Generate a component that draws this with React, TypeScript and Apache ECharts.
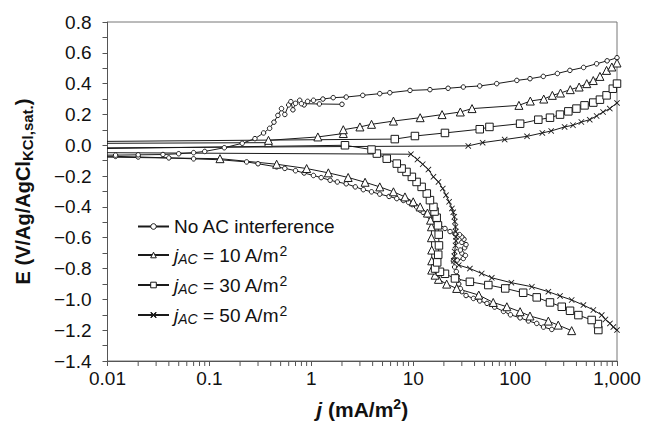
import React, { useEffect, useRef } from "react";
import * as echarts from "echarts";

// x: current density j (mA/m2), y: potential E (V vs Ag/AgCl KCl sat.)
const X_MIN = 0.01;
const X_MAX = 1000;
const Y_MIN = -1.4;
const Y_MAX = 0.8;
const Y_STEP = 0.2;
const X_TICK_LABELS: Record<string, string> = {
  "0.01": "0.01",
  "0.1": "0.1",
  "1": "1",
  "10": "10",
  "100": "100",
  "1000": "1,000",
};

const SERIES_NAMES = ["No AC interference", "jAC10", "jAC30", "jAC50"];
const LEGEND_LABELS: Record<string, string> = {
  "No AC interference": "{t|No AC interference}",
  jAC10: "{i|j}{sub|AC}{t| = 10 A/m}{sup|2}",
  jAC30: "{i|j}{sub|AC}{t| = 30 A/m}{sup|2}",
  jAC50: "{i|j}{sub|AC}{t| = 50 A/m}{sup|2}",
};

const NO_AC_MAIN: [number, number][] = [
  [229, -1.195], [190, -1.18], [163, -1.156], [135, -1.14], [112, -1.12], [90, -1.1],
  [77, -1.078], [63, -1.05], [53, -1.026], [45, -1.01], [39, -0.994], [33, -0.975],
  [30, -0.95], [29, -0.93], [28, -0.9], [27.5, -0.875], [27, -0.85], [26.5, -0.82],
  [25.5, -0.79], [24.8, -0.75], [27, -0.745], [31, -0.735], [32.5, -0.715], [30, -0.7],
  [29, -0.68], [32, -0.665], [33, -0.645], [30, -0.63], [31.5, -0.61], [30, -0.595],
  [28.5, -0.58], [25.7, -0.575], [23, -0.56], [20.5, -0.54], [18, -0.51], [15.8, -0.486],
  [14.6, -0.465], [13.5, -0.45], [12.5, -0.435], [11.7, -0.421], [10.8, -0.4], [9.8, -0.385],
  [9, -0.37], [8, -0.358], [6.9, -0.346], [5.8, -0.332], [4.7, -0.317], [3.9, -0.302],
  [3.24, -0.288], [2.7, -0.27], [2.2, -0.25], [1.8, -0.238], [1.53, -0.227], [1.25, -0.21],
  [1.05, -0.196], [0.85, -0.18], [0.7, -0.165], [0.55, -0.15], [0.457, -0.14],
  [0.3, -0.12], [0.232, -0.108], [0.127, -0.094], [0.07, -0.088], [0.04, -0.082], [0.02, -0.076],
  [0.012, -0.072], [0.001, -0.07],
  [0.001, -0.062], [0.012, -0.064], [0.02, -0.062], [0.035, -0.06], [0.05, -0.055], [0.07, -0.048],
  [0.09, -0.04], [0.14, -0.016], [0.21, 0.013], [0.28, 0.043], [0.34, 0.08], [0.39, 0.11],
  [0.43, 0.15], [0.47, 0.194], [0.51, 0.238], [0.55, 0.2], [0.6, 0.262], [0.63, 0.283],
  [0.66, 0.23], [0.7, 0.272], [0.77, 0.292], [0.85, 0.262], [0.92, 0.285], [1.05, 0.292],
  [1.3, 0.3], [1.64, 0.309], [2.2, 0.313], [3.2, 0.324], [4.7, 0.335], [5.9, 0.341],
  [9.3, 0.356], [14.6, 0.361], [22, 0.37], [31, 0.378], [45, 0.385], [66, 0.4],
  [104, 0.421], [140, 0.432], [189, 0.447], [260, 0.466], [345, 0.486], [470, 0.505],
  [631, 0.529], [800, 0.548], [1000, 0.568],
];
const NO_AC_TAIL: [number, number][] = [[0.8, 0.27], [1.2, 0.268], [2.0, 0.266]];

const AC10: [number, number][] = [
  [359, -1.203], [265, -1.167], [212, -1.141], [140, -1.108], [112, -1.08], [83, -1.048],
  [61, -1.02], [44, -0.972], [26.7, -0.929], [21.3, -0.901], [17.7, -0.87], [16.4, -0.843],
  [15.2, -0.81], [15.2, -0.75], [15.2, -0.68], [15.1, -0.6], [15.1, -0.529], [14.8, -0.486],
  [13.8, -0.44], [11.7, -0.4], [10, -0.367], [8.3, -0.335], [6.4, -0.302], [4.7, -0.27],
  [3.37, -0.24], [2.3, -0.209], [1.47, -0.179], [0.9, -0.151], [0.457, -0.123], [0.127, -0.087],
  [0.001, -0.068],
  [0.001, 0.01], [0.38, 0.017], [0.38, 0.032], [1.16, 0.054], [2.06, 0.076], [2.06, 0.101],
  [3.0, 0.119], [3.9, 0.136], [6.4, 0.157], [11.7, 0.179], [19.2, 0.199], [29, 0.216],
  [37.8, 0.238], [109, 0.259], [141, 0.287], [191, 0.3], [232, 0.324], [279, 0.339],
  [348, 0.361], [425, 0.378], [505, 0.4], [585, 0.42], [680, 0.447], [790, 0.486],
  [890, 0.508], [1000, 0.534],
];

const AC30: [number, number][] = [
  [656, -1.199], [650, -1.16], [564, -1.134], [418, -1.102], [346, -1.074], [287, -1.048],
  [220, -1.02], [163, -0.987], [120, -0.957], [80, -0.929], [54.6, -0.907], [36, -0.886],
  [25.7, -0.864], [20.5, -0.834], [18.3, -0.821], [16.4, -0.8], [17.2, -0.76], [17.6, -0.71],
  [17.9, -0.65], [17.8, -0.58], [17.5, -0.52], [17.0, -0.47], [16.2, -0.43], [15.8, -0.4],
  [14.6, -0.356], [13.6, -0.313], [12.1, -0.27], [10.8, -0.238], [9.7, -0.205], [8.6, -0.173],
  [7.7, -0.151], [6.9, -0.119], [5.5, -0.087], [4.4, -0.054], [3.9, -0.028], [2.14, 0.0],
  [0.001, -0.03],
  [0.001, 0.02], [6.6, 0.04], [10.4, 0.06], [20.5, 0.08], [45, 0.104], [56, 0.119],
  [112, 0.14], [169, 0.166], [220, 0.179], [276, 0.199], [333, 0.22], [400, 0.238],
  [480, 0.259], [585, 0.277], [680, 0.296], [790, 0.324], [910, 0.367], [1000, 0.4],
];

const AC50: [number, number][] = [
  [1000, -1.199], [920, -1.18], [853, -1.156], [770, -1.13], [708, -1.102], [586, -1.069],
  [468, -1.037], [359, -1.004], [276, -0.978], [212, -0.95], [146, -0.918], [92, -0.892],
  [59, -0.86], [47, -0.832], [36, -0.8], [28, -0.778], [25, -0.75], [25.3, -0.72],
  [25.5, -0.69], [26, -0.65], [26.3, -0.62], [26.3, -0.594], [26.2, -0.56], [26, -0.53],
  [25.6, -0.495], [25.3, -0.464], [24.7, -0.435], [24, -0.41], [22.5, -0.367], [21, -0.324],
  [19.5, -0.281], [17.7, -0.238], [15.8, -0.205], [14.1, -0.158], [12.4, -0.123], [11, -0.093],
  [9.5, -0.058], [0.001, -0.045],
  [0.001, -0.02], [34.7, -0.004], [48, 0.017], [79, 0.037], [131, 0.058], [185, 0.08],
  [226, 0.093], [306, 0.119], [370, 0.13], [447, 0.151], [540, 0.166], [631, 0.19],
  [730, 0.216], [850, 0.238], [1000, 0.275],
];

// minor tick positions of the log axis (2..9 within each decade)
const MINOR_TICKS: number[] = [];
for (let e = -2; e < 3; e++) {
  for (let m = 2; m <= 9; m++) MINOR_TICKS.push(Number((m * Math.pow(10, e)).toPrecision(3)));
}

const FONT = "'Liberation Sans', Arial, Helvetica, sans-serif";
const INK = "#1a1a1a";
const AXIS = "#555";
const CROSS = "path://M0,1L1,0L5,4L9,0L10,1L6,5L10,9L9,10L5,6L1,10L0,9L4,5Z";

function lineSeries(name: string, data: [number, number][], symbol: string, size: number, hollow: boolean) {
  return {
    name,
    type: "line",
    data,
    symbol,
    symbolSize: size,
    showAllSymbol: true,
    clip: true,
    lineStyle: { color: INK, width: 1 },
    itemStyle: hollow
      ? { color: "#fff", borderColor: INK, borderWidth: 1 }
      : { color: INK, borderColor: INK, borderWidth: 0 },
    emphasis: { disabled: true },
    z: 3,
  };
}

export default function App() {
  const ref = useRef<HTMLDivElement>(null);
  useEffect(() => {
    if (!ref.current) return;
    const chart = echarts.init(ref.current, undefined, { renderer: "svg" });
    const option: any = {
      animation: false,
      backgroundColor: "#fff",
      textStyle: { fontFamily: FONT },
      grid: {
        left: 107.5,
        right: 29,
        top: 22,
        bottom: 64,
        show: true,
        borderColor: "#777",
        borderWidth: 1,
        backgroundColor: "transparent",
      },
      legend: {
        data: SERIES_NAMES,
        orient: "vertical",
        left: 137,
        top: 217,
        padding: 0,
        itemWidth: 31,
        itemHeight: 7,
        itemGap: 8,
        selectedMode: false,
        itemStyle: { borderWidth: 1 },
        formatter: (name: string) => LEGEND_LABELS[name] || name,
        textStyle: {
          fontFamily: FONT,
          fontSize: 19,
          color: "#111",
          rich: {
            t: { fontFamily: FONT, fontSize: 19, lineHeight: 22, color: "#111" },
            i: { fontFamily: FONT, fontSize: 19, lineHeight: 22, fontStyle: "italic", color: "#111" },
            sub: { fontFamily: FONT, fontSize: 14, lineHeight: 12, fontStyle: "italic", verticalAlign: "bottom", color: "#111" },
            sup: { fontFamily: FONT, fontSize: 14, lineHeight: 12, verticalAlign: "top", color: "#111" },
          },
        },
      },
      xAxis: {
        type: "log",
        logBase: 10,
        min: X_MIN,
        max: X_MAX,
        name: "{i|j}{b| (mA/m}{sup|2}{b|)}",
        nameLocation: "middle",
        nameGap: 36,
        nameMoveOverlap: false,
        nameTextStyle: {
          rich: {
            i: { fontFamily: FONT, fontSize: 21, fontWeight: "bold", fontStyle: "italic", lineHeight: 24, color: "#111" },
            b: { fontFamily: FONT, fontSize: 21, fontWeight: "bold", lineHeight: 24, color: "#111" },
            sup: { fontFamily: FONT, fontSize: 14, fontWeight: "bold", lineHeight: 12, verticalAlign: "top", color: "#111" },
          },
        },
        axisLine: { show: true, onZero: false, lineStyle: { color: AXIS, width: 1 } },
        axisTick: { show: true, length: 5, lineStyle: { color: AXIS } },
        minorTick: { show: false },
        splitLine: { show: false },
        axisLabel: {
          fontFamily: FONT,
          fontSize: 19,
          color: "#111",
          margin: 8,
          formatter: (v: number) => {
            const k = String(Number(v.toPrecision(6)));
            return X_TICK_LABELS[k] ?? k;
          },
        },
      },
      yAxis: {
        type: "value",
        min: Y_MIN,
        max: Y_MAX,
        interval: Y_STEP,
        name: "{b|E (V/Ag/AgCl}{s|KCl,sat.}{b|)}",
        nameLocation: "middle",
        nameRotate: 90,
        nameGap: 73,
        nameMoveOverlap: false,
        nameTextStyle: {
          rich: {
            b: { fontFamily: FONT, fontSize: 20, fontWeight: "bold", lineHeight: 24, color: "#111" },
            s: { fontFamily: FONT, fontSize: 15, fontWeight: "bold", lineHeight: 14, verticalAlign: "bottom", color: "#111" },
          },
        },
        axisLine: { show: true, onZero: false, lineStyle: { color: AXIS, width: 1 } },
        axisTick: { show: true, length: 5, lineStyle: { color: AXIS } },
        minorTick: { show: true, splitNumber: 2, length: 5, lineStyle: { color: AXIS } },
        splitLine: { show: false },
        axisLabel: {
          fontFamily: FONT,
          fontSize: 19,
          color: "#111",
          margin: 16,
          formatter: (v: number) => {
            const r = Math.round(v * 10) / 10;
            return (r < 0 ? "\u2212" : "") + Math.abs(r).toFixed(1);
          },
        },
      },
      series: [
        lineSeries("No AC interference", NO_AC_MAIN, "circle", 4.5, true),
        lineSeries("No AC interference", NO_AC_TAIL, "circle", 4.5, true),
        lineSeries("jAC10", AC10, "triangle", 8, true),
        lineSeries("jAC30", AC30, "rect", 7.5, true),
        lineSeries("jAC50", AC50, CROSS, 6, false),
        {
          type: "custom",
          name: "minorTicks",
          silent: true,
          clip: false,
          data: MINOR_TICKS.map((v) => [v, Y_MIN]),
          encode: { x: 0, y: 1 },
          renderItem: (_params: any, api: any) => {
            const p = api.coord([api.value(0), api.value(1)]);
            return {
              type: "line",
              shape: { x1: p[0], y1: p[1], x2: p[0], y2: p[1] + 5 },
              style: { stroke: AXIS, lineWidth: 1 },
            };
          },
          z: 1,
        },
      ],
    };
    chart.setOption(option);
    return () => chart.dispose();
  }, []);
  return (
    <div
      ref={ref}
      style={{ position: "fixed", left: 0, top: 0, width: 646, height: 425, background: "#fff" }}
    />
  );
}
